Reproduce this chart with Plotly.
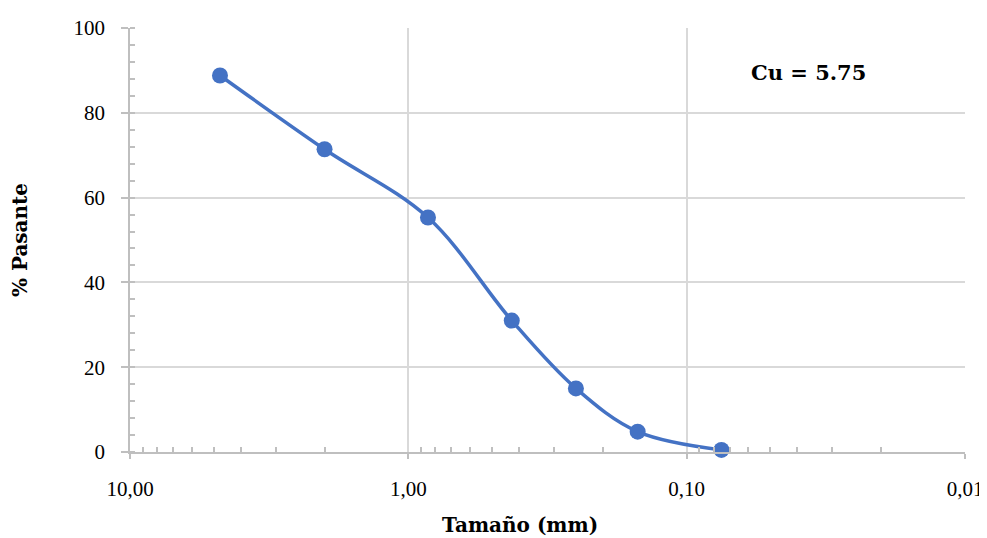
import math
import plotly.graph_objects as go

tamano_mm = [4.75, 2.00, 0.85, 0.425, 0.25, 0.15, 0.075]
pasante = [88.8, 71.4, 55.3, 31.0, 15.0, 4.8, 0.5]

x_tickvals = [10, 1, 0.1, 0.01]
x_ticktext = ["10,00", "1,00", "0,10", "0,01"]
y_tickvals = [0, 20, 40, 60, 80, 100]

minor_x = [m * 10 ** e for e in (-2, -1, 0) for m in range(2, 10)]

SERIF = "Liberation Serif"
BOLD = "DejaVu Serif"

fig = go.Figure()
fig.add_trace(go.Scatter(
    x=tamano_mm, y=pasante, mode="lines+markers",
    line=dict(color="#4472C4", width=3.5, shape="spline", smoothing=1.0),
    marker=dict(color="#4472C4", size=16),
    showlegend=False, cliponaxis=False,
))

# page body has an 8px margin, so the figure is sized/offset to compensate
fig.update_layout(
    width=979, height=530,
    margin=dict(l=122, r=22, t=20, b=86, autoexpand=False),
    paper_bgcolor="white", plot_bgcolor="white",
    font=dict(family=SERIF, size=21, color="#000000"),
    annotations=[
        dict(x=0.812, y=0.894, xref="paper", yref="paper",
             xanchor="center", yanchor="middle",
             text="<b>Cu = 5.75</b>", showarrow=False,
             font=dict(family=BOLD, size=21, color="#000000")),
        dict(x=0.467, y=-0.172, xref="paper", yref="paper",
             xanchor="center", yanchor="middle",
             text="<b>Tamaño (mm)</b>", showarrow=False,
             font=dict(family=BOLD, size=20, color="#000000")),
    ],
)

fig.update_xaxes(
    type="log", range=[math.log10(10), math.log10(0.01)],
    tickmode="array", tickvals=x_tickvals, ticktext=x_ticktext,
    showgrid=True, gridcolor="#d9d9d9", gridwidth=1.5,
    showline=True, linecolor="#bfbfbf", linewidth=1.5,
    ticks="outside", ticklen=5, tickcolor="#bfbfbf", tickwidth=1.5,
    ticklabelstandoff=12, automargin=False,
    minor=dict(tickmode="array", tickvals=minor_x, ticks="inside",
               ticklen=5, tickcolor="#bfbfbf", tickwidth=1.5, showgrid=False),
    zeroline=False, mirror=False,
)

fig.update_yaxes(
    range=[0, 100], tickmode="array", tickvals=y_tickvals,
    showgrid=True, gridcolor="#d9d9d9", gridwidth=1.5,
    showline=True, linecolor="#bfbfbf", linewidth=1.5,
    ticks="outside", ticklen=7, tickcolor="#bfbfbf", tickwidth=1.5,
    ticklabelstandoff=12, automargin=False,
    minor=dict(dtick=4, ticks="inside", ticklen=5, tickcolor="#bfbfbf",
               tickwidth=1.5, showgrid=False),
    zeroline=False,
    title=dict(text="<b>% Pasante</b>", font=dict(family=BOLD, size=20), standoff=44),
)

fig.write_html("out.html")
